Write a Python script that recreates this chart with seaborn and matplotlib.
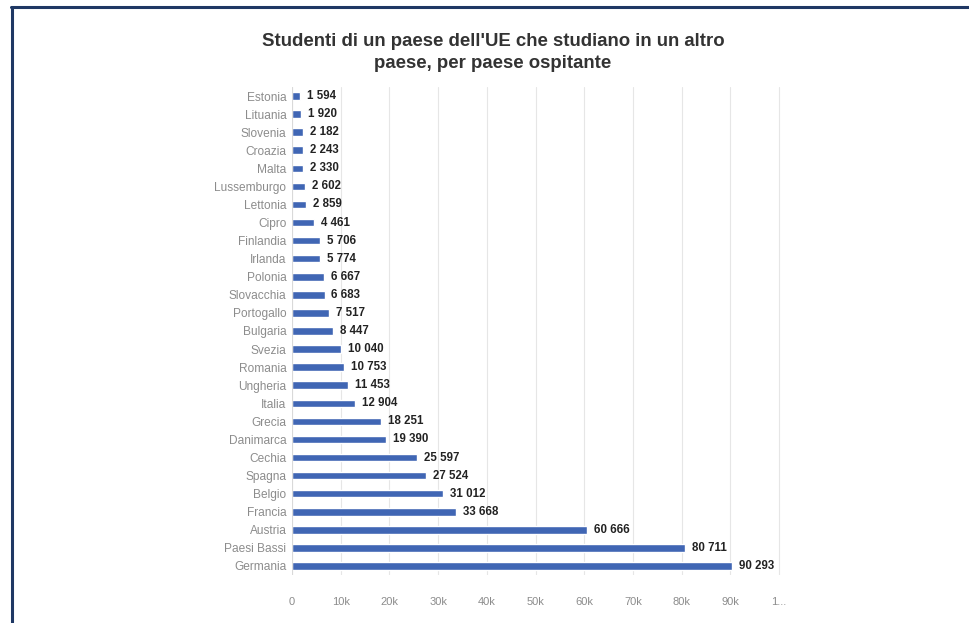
import matplotlib
matplotlib.use("Agg")
import matplotlib.pyplot as plt
import seaborn as sns
import pandas as pd

# datos del grafico
paesi = ["Estonia", "Lituania", "Slovenia", "Croazia", "Malta", "Lussemburgo",
         "Lettonia", "Cipro", "Finlandia", "Irlanda", "Polonia", "Slovacchia",
         "Portogallo", "Bulgaria", "Svezia", "Romania", "Ungheria", "Italia",
         "Grecia", "Danimarca", "Cechia", "Spagna", "Belgio", "Francia",
         "Austria", "Paesi Bassi", "Germania"]
studenti = [1594, 1920, 2182, 2243, 2330, 2602, 2859, 4461, 5706, 5774, 6667,
            6683, 7517, 8447, 10040, 10753, 11453, 12904, 18251, 19390, 25597,
            27524, 31012, 33668, 60666, 80711, 90293]
xticks = [0, 10000, 20000, 30000, 40000, 50000, 60000, 70000, 80000, 90000, 100000]
xtick_labels = ["0", "10k", "20k", "30k", "40k", "50k", "60k", "70k", "80k", "90k", "1..."]

datos = pd.DataFrame({"Paese": paesi, "Studenti": studenti})

sns.set_style("whitegrid")
plt.rcParams['font.family'] = ['Liberation Sans', 'DejaVu Sans']

fig = plt.figure(figsize=(9.7, 6.23), dpi=100)
ax = fig.add_axes([292 / 970, 48 / 623, 489.5 / 970, 488 / 623])

sns.barplot(data=datos, x="Studenti", y="Paese", orient="h", color="#4066b4",
            width=0.42, saturation=1, ax=ax)

ax.bar_label(ax.containers[0], labels=[f"{v:,}".replace(",", " ") for v in studenti],
             padding=5, fontsize=8.3, fontweight="bold", color="#222222")

ax.set_xlim(0, 100500)
ax.set_xticks(xticks)
ax.set_xticklabels(xtick_labels)
ax.set_xlabel("")
ax.set_ylabel("")
ax.grid(axis="x", color="#e6e6e6", linewidth=0.8)
ax.grid(axis="y", visible=False)
for s in ax.spines.values():
    s.set_visible(False)
ax.axvline(0, color="#d9d9d9", linewidth=0.8)
ax.tick_params(axis="x", colors="#8c8c8c", labelsize=8, pad=16, length=0)
ax.tick_params(axis="y", colors="#8c8c8c", labelsize=8.6, pad=4, length=0)

fig.text(493 / 970, 1 - 52.5 / 623,
         "Studenti di un paese dell'UE che studiano in un altro\npaese, per paese ospitante",
         ha="center", va="center", fontsize=13.4, fontweight="bold", color="#333333",
         linespacing=1.35)

# cornice
fig.add_artist(plt.Line2D([12 / 970, 12 / 970], [0, 1 - 7 / 623], color="#1f3864",
                          linewidth=2.2, transform=fig.transFigure))
fig.add_artist(plt.Line2D([11 / 970, 1], [1 - 7 / 623, 1 - 7 / 623], color="#1f3864",
                          linewidth=2.2, transform=fig.transFigure))

fig.savefig("out.png", dpi=100)
